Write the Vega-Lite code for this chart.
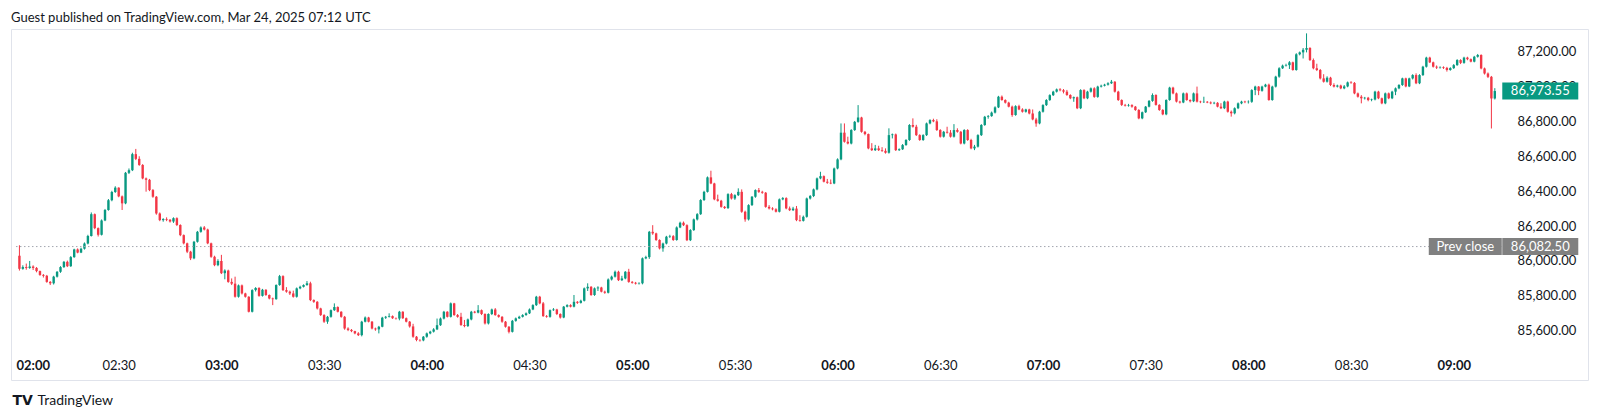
{
  "$schema": "https://vega.github.io/schema/vega-lite/v6.json",
  "width": 1577,
  "height": 351,
  "autosize": {"type": "none"},
  "padding": {"left": 11, "top": 29, "right": 12, "bottom": 39},
  "background": "white",
  "title": {
    "text": "Guest published on TradingView.com, Mar 24, 2025 07:12 UTC",
    "anchor": "start",
    "frame": "group",
    "orient": "top",
    "offset": 8,
    "dy": 14,
    "baseline": "alphabetic",
    "font": "Lato",
    "fontSize": 13,
    "fontWeight": "normal",
    "color": "#131722"
  },
  "config": {"view": {"stroke": "#e0e3eb", "strokeWidth": 1}},
  "data": {
    "format": {"parse": {"t": "utc:'%H:%M'"}},
    "values": [
      {"t":"02:01","o":86030,"h":86090,"l":85945,"c":85955},
      {"t":"02:02","o":85955,"h":85975,"l":85950,"c":85965},
      {"t":"02:03","o":85965,"h":85985,"l":85950,"c":85960},
      {"t":"02:04","o":85960,"h":86000,"l":85955,"c":85968},
      {"t":"02:05","o":85968,"h":85975,"l":85948,"c":85960},
      {"t":"02:06","o":85960,"h":85965,"l":85935,"c":85942},
      {"t":"02:07","o":85942,"h":85945,"l":85915,"c":85920},
      {"t":"02:08","o":85920,"h":85925,"l":85905,"c":85915},
      {"t":"02:09","o":85915,"h":85920,"l":85875,"c":85880},
      {"t":"02:10","o":85880,"h":85885,"l":85862,"c":85872},
      {"t":"02:11","o":85872,"h":85915,"l":85865,"c":85910},
      {"t":"02:12","o":85910,"h":85942,"l":85905,"c":85938},
      {"t":"02:13","o":85938,"h":85970,"l":85932,"c":85965},
      {"t":"02:14","o":85965,"h":86000,"l":85960,"c":85995},
      {"t":"02:15","o":85995,"h":86002,"l":85965,"c":85970},
      {"t":"02:16","o":85970,"h":86028,"l":85966,"c":86022},
      {"t":"02:17","o":86022,"h":86070,"l":86018,"c":86066},
      {"t":"02:18","o":86066,"h":86072,"l":86044,"c":86048},
      {"t":"02:19","o":86048,"h":86076,"l":86045,"c":86070},
      {"t":"02:20","o":86070,"h":86106,"l":86065,"c":86100},
      {"t":"02:21","o":86100,"h":86150,"l":86095,"c":86143},
      {"t":"02:22","o":86143,"h":86278,"l":86140,"c":86268},
      {"t":"02:23","o":86268,"h":86272,"l":86182,"c":86188},
      {"t":"02:24","o":86188,"h":86192,"l":86140,"c":86150},
      {"t":"02:25","o":86150,"h":86238,"l":86146,"c":86232},
      {"t":"02:26","o":86232,"h":86298,"l":86228,"c":86292},
      {"t":"02:27","o":86292,"h":86355,"l":86288,"c":86348},
      {"t":"02:28","o":86348,"h":86402,"l":86342,"c":86395},
      {"t":"02:29","o":86395,"h":86428,"l":86390,"c":86420},
      {"t":"02:30","o":86420,"h":86422,"l":86365,"c":86370},
      {"t":"02:31","o":86370,"h":86375,"l":86292,"c":86330},
      {"t":"02:32","o":86330,"h":86510,"l":86325,"c":86505},
      {"t":"02:33","o":86505,"h":86530,"l":86498,"c":86520},
      {"t":"02:34","o":86520,"h":86620,"l":86515,"c":86612},
      {"t":"02:35","o":86612,"h":86642,"l":86578,"c":86585},
      {"t":"02:36","o":86585,"h":86600,"l":86545,"c":86550},
      {"t":"02:37","o":86550,"h":86555,"l":86468,"c":86473},
      {"t":"02:38","o":86473,"h":86478,"l":86397,"c":86465},
      {"t":"02:39","o":86465,"h":86470,"l":86400,"c":86406},
      {"t":"02:40","o":86406,"h":86412,"l":86362,"c":86368},
      {"t":"02:41","o":86368,"h":86372,"l":86265,"c":86272},
      {"t":"02:42","o":86272,"h":86278,"l":86228,"c":86234},
      {"t":"02:43","o":86234,"h":86245,"l":86225,"c":86240},
      {"t":"02:44","o":86240,"h":86250,"l":86228,"c":86236},
      {"t":"02:45","o":86236,"h":86240,"l":86220,"c":86226},
      {"t":"02:46","o":86226,"h":86250,"l":86218,"c":86245},
      {"t":"02:47","o":86245,"h":86250,"l":86200,"c":86206},
      {"t":"02:48","o":86206,"h":86210,"l":86142,"c":86148},
      {"t":"02:49","o":86148,"h":86152,"l":86095,"c":86101},
      {"t":"02:50","o":86101,"h":86105,"l":86045,"c":86053},
      {"t":"02:51","o":86053,"h":86058,"l":86005,"c":86015},
      {"t":"02:52","o":86015,"h":86115,"l":86010,"c":86110},
      {"t":"02:53","o":86110,"h":86172,"l":86105,"c":86167},
      {"t":"02:54","o":86167,"h":86198,"l":86162,"c":86192},
      {"t":"02:55","o":86192,"h":86200,"l":86175,"c":86180},
      {"t":"02:56","o":86180,"h":86185,"l":86096,"c":86101},
      {"t":"02:57","o":86101,"h":86105,"l":86018,"c":86024},
      {"t":"02:58","o":86024,"h":86030,"l":85970,"c":85976},
      {"t":"02:59","o":85976,"h":86010,"l":85970,"c":86000},
      {"t":"03:00","o":86000,"h":86035,"l":85925,"c":85930},
      {"t":"03:01","o":85930,"h":85952,"l":85895,"c":85945},
      {"t":"03:02","o":85945,"h":85950,"l":85875,"c":85880},
      {"t":"03:03","o":85880,"h":85900,"l":85862,"c":85870},
      {"t":"03:04","o":85870,"h":85910,"l":85790,"c":85795},
      {"t":"03:05","o":85795,"h":85865,"l":85790,"c":85860},
      {"t":"03:06","o":85860,"h":85865,"l":85808,"c":85814},
      {"t":"03:07","o":85814,"h":85818,"l":85790,"c":85795},
      {"t":"03:08","o":85795,"h":85798,"l":85705,"c":85709},
      {"t":"03:09","o":85709,"h":85838,"l":85705,"c":85833},
      {"t":"03:10","o":85833,"h":85850,"l":85825,"c":85845},
      {"t":"03:11","o":85845,"h":85850,"l":85795,"c":85800},
      {"t":"03:12","o":85800,"h":85840,"l":85796,"c":85835},
      {"t":"03:13","o":85835,"h":85838,"l":85800,"c":85805},
      {"t":"03:14","o":85805,"h":85808,"l":85780,"c":85785},
      {"t":"03:15","o":85785,"h":85790,"l":85747,"c":85781},
      {"t":"03:16","o":85781,"h":85866,"l":85778,"c":85862},
      {"t":"03:17","o":85862,"h":85920,"l":85858,"c":85913},
      {"t":"03:18","o":85913,"h":85918,"l":85828,"c":85833},
      {"t":"03:19","o":85833,"h":85850,"l":85818,"c":85824},
      {"t":"03:20","o":85824,"h":85830,"l":85805,"c":85814},
      {"t":"03:21","o":85814,"h":85830,"l":85790,"c":85795},
      {"t":"03:22","o":85795,"h":85848,"l":85790,"c":85843},
      {"t":"03:23","o":85843,"h":85858,"l":85838,"c":85852},
      {"t":"03:24","o":85852,"h":85866,"l":85848,"c":85862},
      {"t":"03:25","o":85862,"h":85885,"l":85858,"c":85872},
      {"t":"03:26","o":85872,"h":85881,"l":85770,"c":85776},
      {"t":"03:27","o":85776,"h":85780,"l":85760,"c":85766},
      {"t":"03:28","o":85766,"h":85770,"l":85722,"c":85728},
      {"t":"03:29","o":85728,"h":85732,"l":85685,"c":85690},
      {"t":"03:30","o":85690,"h":85695,"l":85645,"c":85652},
      {"t":"03:31","o":85652,"h":85685,"l":85640,"c":85680},
      {"t":"03:32","o":85680,"h":85722,"l":85675,"c":85718},
      {"t":"03:33","o":85718,"h":85757,"l":85714,"c":85736},
      {"t":"03:34","o":85736,"h":85740,"l":85705,"c":85709},
      {"t":"03:35","o":85709,"h":85712,"l":85675,"c":85680},
      {"t":"03:36","o":85680,"h":85685,"l":85606,"c":85613},
      {"t":"03:37","o":85613,"h":85620,"l":85598,"c":85605},
      {"t":"03:38","o":85605,"h":85610,"l":85592,"c":85598},
      {"t":"03:39","o":85598,"h":85600,"l":85580,"c":85585},
      {"t":"03:40","o":85585,"h":85592,"l":85570,"c":85575},
      {"t":"03:41","o":85575,"h":85657,"l":85568,"c":85652},
      {"t":"03:42","o":85652,"h":85682,"l":85648,"c":85676},
      {"t":"03:43","o":85676,"h":85680,"l":85648,"c":85652},
      {"t":"03:44","o":85652,"h":85656,"l":85608,"c":85613},
      {"t":"03:45","o":85613,"h":85618,"l":85600,"c":85608},
      {"t":"03:46","o":85608,"h":85628,"l":85585,"c":85623},
      {"t":"03:47","o":85623,"h":85680,"l":85620,"c":85675},
      {"t":"03:48","o":85675,"h":85685,"l":85668,"c":85680},
      {"t":"03:49","o":85680,"h":85700,"l":85676,"c":85684},
      {"t":"03:50","o":85684,"h":85688,"l":85668,"c":85672},
      {"t":"03:51","o":85672,"h":85676,"l":85664,"c":85670},
      {"t":"03:52","o":85670,"h":85714,"l":85660,"c":85709},
      {"t":"03:53","o":85709,"h":85712,"l":85668,"c":85672},
      {"t":"03:54","o":85672,"h":85676,"l":85648,"c":85652},
      {"t":"03:55","o":85652,"h":85656,"l":85618,"c":85625},
      {"t":"03:56","o":85625,"h":85640,"l":85560,"c":85566},
      {"t":"03:57","o":85566,"h":85570,"l":85540,"c":85547},
      {"t":"03:58","o":85547,"h":85552,"l":85538,"c":85545},
      {"t":"03:59","o":85545,"h":85570,"l":85540,"c":85566},
      {"t":"04:00","o":85566,"h":85590,"l":85560,"c":85585},
      {"t":"04:01","o":85585,"h":85600,"l":85580,"c":85595},
      {"t":"04:02","o":85595,"h":85615,"l":85590,"c":85608},
      {"t":"04:03","o":85608,"h":85670,"l":85604,"c":85632},
      {"t":"04:04","o":85632,"h":85676,"l":85628,"c":85670},
      {"t":"04:05","o":85670,"h":85714,"l":85665,"c":85709},
      {"t":"04:06","o":85709,"h":85712,"l":85676,"c":85680},
      {"t":"04:07","o":85680,"h":85762,"l":85676,"c":85757},
      {"t":"04:08","o":85757,"h":85760,"l":85686,"c":85690},
      {"t":"04:09","o":85690,"h":85696,"l":85675,"c":85680},
      {"t":"04:10","o":85680,"h":85703,"l":85628,"c":85633},
      {"t":"04:11","o":85633,"h":85662,"l":85620,"c":85627},
      {"t":"04:12","o":85627,"h":85670,"l":85622,"c":85665},
      {"t":"04:13","o":85665,"h":85714,"l":85660,"c":85709},
      {"t":"04:14","o":85709,"h":85714,"l":85700,"c":85704},
      {"t":"04:15","o":85704,"h":85747,"l":85700,"c":85718},
      {"t":"04:16","o":85718,"h":85722,"l":85690,"c":85696},
      {"t":"04:17","o":85696,"h":85700,"l":85636,"c":85642},
      {"t":"04:18","o":85642,"h":85700,"l":85636,"c":85696},
      {"t":"04:19","o":85696,"h":85727,"l":85690,"c":85722},
      {"t":"04:20","o":85722,"h":85730,"l":85686,"c":85690},
      {"t":"04:21","o":85690,"h":85694,"l":85675,"c":85680},
      {"t":"04:22","o":85680,"h":85684,"l":85646,"c":85652},
      {"t":"04:23","o":85652,"h":85656,"l":85618,"c":85623},
      {"t":"04:24","o":85623,"h":85627,"l":85585,"c":85594},
      {"t":"04:25","o":85594,"h":85662,"l":85590,"c":85657},
      {"t":"04:26","o":85657,"h":85676,"l":85652,"c":85671},
      {"t":"04:27","o":85671,"h":85686,"l":85668,"c":85680},
      {"t":"04:28","o":85680,"h":85695,"l":85676,"c":85690},
      {"t":"04:29","o":85690,"h":85705,"l":85686,"c":85700},
      {"t":"04:30","o":85700,"h":85728,"l":85696,"c":85722},
      {"t":"04:31","o":85722,"h":85752,"l":85718,"c":85747},
      {"t":"04:32","o":85747,"h":85800,"l":85742,"c":85795},
      {"t":"04:33","o":85795,"h":85800,"l":85752,"c":85757},
      {"t":"04:34","o":85757,"h":85765,"l":85680,"c":85684},
      {"t":"04:35","o":85684,"h":85690,"l":85675,"c":85680},
      {"t":"04:36","o":85680,"h":85722,"l":85675,"c":85718},
      {"t":"04:37","o":85718,"h":85730,"l":85714,"c":85722},
      {"t":"04:38","o":85722,"h":85726,"l":85690,"c":85696},
      {"t":"04:39","o":85696,"h":85700,"l":85670,"c":85676},
      {"t":"04:40","o":85676,"h":85742,"l":85672,"c":85738},
      {"t":"04:41","o":85738,"h":85752,"l":85734,"c":85747},
      {"t":"04:42","o":85747,"h":85752,"l":85734,"c":85738},
      {"t":"04:43","o":85738,"h":85805,"l":85734,"c":85766},
      {"t":"04:44","o":85766,"h":85770,"l":85754,"c":85760},
      {"t":"04:45","o":85760,"h":85778,"l":85756,"c":85772},
      {"t":"04:46","o":85772,"h":85848,"l":85768,"c":85843},
      {"t":"04:47","o":85843,"h":85872,"l":85828,"c":85852},
      {"t":"04:48","o":85852,"h":85856,"l":85800,"c":85805},
      {"t":"04:49","o":85805,"h":85848,"l":85800,"c":85843},
      {"t":"04:50","o":85843,"h":85855,"l":85828,"c":85848},
      {"t":"04:51","o":85848,"h":85852,"l":85820,"c":85824},
      {"t":"04:52","o":85824,"h":85830,"l":85812,"c":85818},
      {"t":"04:53","o":85818,"h":85900,"l":85814,"c":85894},
      {"t":"04:54","o":85894,"h":85916,"l":85888,"c":85910},
      {"t":"04:55","o":85910,"h":85945,"l":85905,"c":85938},
      {"t":"04:56","o":85938,"h":85944,"l":85885,"c":85890},
      {"t":"04:57","o":85890,"h":85915,"l":85885,"c":85900},
      {"t":"04:58","o":85900,"h":85942,"l":85895,"c":85938},
      {"t":"04:59","o":85938,"h":85955,"l":85875,"c":85880},
      {"t":"05:00","o":85880,"h":85885,"l":85870,"c":85875},
      {"t":"05:01","o":85875,"h":85880,"l":85865,"c":85870},
      {"t":"05:02","o":85870,"h":85878,"l":85865,"c":85872},
      {"t":"05:03","o":85872,"h":86020,"l":85866,"c":86015},
      {"t":"05:04","o":86015,"h":86030,"l":86010,"c":86022},
      {"t":"05:05","o":86022,"h":86172,"l":86012,"c":86167},
      {"t":"05:06","o":86167,"h":86205,"l":86150,"c":86158},
      {"t":"05:07","o":86158,"h":86162,"l":86115,"c":86120},
      {"t":"05:08","o":86120,"h":86124,"l":86066,"c":86072},
      {"t":"05:09","o":86072,"h":86105,"l":86053,"c":86100},
      {"t":"05:10","o":86100,"h":86144,"l":86095,"c":86139},
      {"t":"05:11","o":86139,"h":86150,"l":86132,"c":86142},
      {"t":"05:12","o":86142,"h":86148,"l":86115,"c":86120},
      {"t":"05:13","o":86120,"h":86198,"l":86116,"c":86192},
      {"t":"05:14","o":86192,"h":86225,"l":86188,"c":86219},
      {"t":"05:15","o":86219,"h":86226,"l":86200,"c":86205},
      {"t":"05:16","o":86205,"h":86210,"l":86114,"c":86119},
      {"t":"05:17","o":86119,"h":86182,"l":86114,"c":86177},
      {"t":"05:18","o":86177,"h":86243,"l":86172,"c":86238},
      {"t":"05:19","o":86238,"h":86274,"l":86232,"c":86268},
      {"t":"05:20","o":86268,"h":86354,"l":86264,"c":86349},
      {"t":"05:21","o":86349,"h":86402,"l":86344,"c":86396},
      {"t":"05:22","o":86396,"h":86484,"l":86392,"c":86479},
      {"t":"05:23","o":86479,"h":86517,"l":86440,"c":86444},
      {"t":"05:24","o":86444,"h":86448,"l":86348,"c":86353},
      {"t":"05:25","o":86353,"h":86380,"l":86340,"c":86345},
      {"t":"05:26","o":86345,"h":86350,"l":86305,"c":86310},
      {"t":"05:27","o":86310,"h":86315,"l":86298,"c":86303},
      {"t":"05:28","o":86303,"h":86388,"l":86298,"c":86383},
      {"t":"05:29","o":86383,"h":86390,"l":86352,"c":86358},
      {"t":"05:30","o":86358,"h":86382,"l":86350,"c":86377},
      {"t":"05:31","o":86377,"h":86416,"l":86372,"c":86396},
      {"t":"05:32","o":86396,"h":86410,"l":86276,"c":86282},
      {"t":"05:33","o":86282,"h":86288,"l":86225,"c":86238},
      {"t":"05:34","o":86238,"h":86325,"l":86232,"c":86320},
      {"t":"05:35","o":86320,"h":86372,"l":86315,"c":86368},
      {"t":"05:36","o":86368,"h":86410,"l":86362,"c":86406},
      {"t":"05:37","o":86406,"h":86418,"l":86390,"c":86396},
      {"t":"05:38","o":86396,"h":86402,"l":86385,"c":86391},
      {"t":"05:39","o":86391,"h":86395,"l":86305,"c":86310},
      {"t":"05:40","o":86310,"h":86320,"l":86295,"c":86301},
      {"t":"05:41","o":86301,"h":86308,"l":86290,"c":86296},
      {"t":"05:42","o":86296,"h":86302,"l":86278,"c":86282},
      {"t":"05:43","o":86282,"h":86358,"l":86278,"c":86353},
      {"t":"05:44","o":86353,"h":86366,"l":86348,"c":86360},
      {"t":"05:45","o":86360,"h":86365,"l":86296,"c":86301},
      {"t":"05:46","o":86301,"h":86312,"l":86286,"c":86291},
      {"t":"05:47","o":86291,"h":86310,"l":86286,"c":86300},
      {"t":"05:48","o":86300,"h":86315,"l":86228,"c":86234},
      {"t":"05:49","o":86234,"h":86262,"l":86225,"c":86230},
      {"t":"05:50","o":86230,"h":86260,"l":86226,"c":86253},
      {"t":"05:51","o":86253,"h":86363,"l":86248,"c":86358},
      {"t":"05:52","o":86358,"h":86378,"l":86352,"c":86372},
      {"t":"05:53","o":86372,"h":86415,"l":86366,"c":86410},
      {"t":"05:54","o":86410,"h":86478,"l":86405,"c":86473},
      {"t":"05:55","o":86473,"h":86511,"l":86468,"c":86486},
      {"t":"05:56","o":86486,"h":86490,"l":86450,"c":86454},
      {"t":"05:57","o":86454,"h":86470,"l":86442,"c":86448},
      {"t":"05:58","o":86448,"h":86467,"l":86440,"c":86444},
      {"t":"05:59","o":86444,"h":86535,"l":86440,"c":86530},
      {"t":"06:00","o":86530,"h":86588,"l":86525,"c":86582},
      {"t":"06:01","o":86582,"h":86788,"l":86577,"c":86735},
      {"t":"06:02","o":86735,"h":86788,"l":86678,"c":86683},
      {"t":"06:03","o":86683,"h":86712,"l":86668,"c":86673},
      {"t":"06:04","o":86673,"h":86755,"l":86668,"c":86750},
      {"t":"06:05","o":86750,"h":86802,"l":86745,"c":86797},
      {"t":"06:06","o":86797,"h":86893,"l":86792,"c":86822},
      {"t":"06:07","o":86822,"h":86826,"l":86735,"c":86740},
      {"t":"06:08","o":86740,"h":86745,"l":86720,"c":86727},
      {"t":"06:09","o":86727,"h":86730,"l":86640,"c":86645},
      {"t":"06:10","o":86645,"h":86675,"l":86630,"c":86635},
      {"t":"06:11","o":86635,"h":86665,"l":86630,"c":86645},
      {"t":"06:12","o":86645,"h":86660,"l":86630,"c":86635},
      {"t":"06:13","o":86635,"h":86652,"l":86625,"c":86631},
      {"t":"06:14","o":86631,"h":86645,"l":86615,"c":86620},
      {"t":"06:15","o":86620,"h":86760,"l":86615,"c":86721},
      {"t":"06:16","o":86721,"h":86730,"l":86702,"c":86725},
      {"t":"06:17","o":86725,"h":86730,"l":86630,"c":86635},
      {"t":"06:18","o":86635,"h":86645,"l":86630,"c":86640},
      {"t":"06:19","o":86640,"h":86670,"l":86636,"c":86664},
      {"t":"06:20","o":86664,"h":86698,"l":86660,"c":86693},
      {"t":"06:21","o":86693,"h":86784,"l":86688,"c":86779},
      {"t":"06:22","o":86779,"h":86817,"l":86764,"c":86769},
      {"t":"06:23","o":86769,"h":86780,"l":86716,"c":86721},
      {"t":"06:24","o":86721,"h":86726,"l":86688,"c":86693},
      {"t":"06:25","o":86693,"h":86726,"l":86688,"c":86721},
      {"t":"06:26","o":86721,"h":86793,"l":86716,"c":86788},
      {"t":"06:27","o":86788,"h":86812,"l":86783,"c":86807},
      {"t":"06:28","o":86807,"h":86815,"l":86795,"c":86800},
      {"t":"06:29","o":86800,"h":86812,"l":86745,"c":86750},
      {"t":"06:30","o":86750,"h":86755,"l":86707,"c":86712},
      {"t":"06:31","o":86712,"h":86745,"l":86707,"c":86740},
      {"t":"06:32","o":86740,"h":86769,"l":86730,"c":86735},
      {"t":"06:33","o":86735,"h":86750,"l":86707,"c":86712},
      {"t":"06:34","o":86712,"h":86784,"l":86707,"c":86750},
      {"t":"06:35","o":86750,"h":86760,"l":86735,"c":86740},
      {"t":"06:36","o":86740,"h":86745,"l":86668,"c":86673},
      {"t":"06:37","o":86673,"h":86755,"l":86668,"c":86750},
      {"t":"06:38","o":86750,"h":86755,"l":86688,"c":86693},
      {"t":"06:39","o":86693,"h":86700,"l":86640,"c":86645},
      {"t":"06:40","o":86645,"h":86665,"l":86635,"c":86655},
      {"t":"06:41","o":86655,"h":86726,"l":86650,"c":86721},
      {"t":"06:42","o":86721,"h":86784,"l":86716,"c":86779},
      {"t":"06:43","o":86779,"h":86831,"l":86774,"c":86826},
      {"t":"06:44","o":86826,"h":86836,"l":86815,"c":86830},
      {"t":"06:45","o":86830,"h":86856,"l":86826,"c":86850},
      {"t":"06:46","o":86850,"h":86886,"l":86845,"c":86880},
      {"t":"06:47","o":86880,"h":86946,"l":86876,"c":86941},
      {"t":"06:48","o":86941,"h":86948,"l":86918,"c":86922},
      {"t":"06:49","o":86922,"h":86926,"l":86902,"c":86907},
      {"t":"06:50","o":86907,"h":86912,"l":86880,"c":86884},
      {"t":"06:51","o":86884,"h":86890,"l":86826,"c":86836},
      {"t":"06:52","o":86836,"h":86892,"l":86832,"c":86887},
      {"t":"06:53","o":86887,"h":86895,"l":86864,"c":86868},
      {"t":"06:54","o":86868,"h":86875,"l":86850,"c":86855},
      {"t":"06:55","o":86855,"h":86872,"l":86850,"c":86868},
      {"t":"06:56","o":86868,"h":86872,"l":86840,"c":86845},
      {"t":"06:57","o":86845,"h":86868,"l":86806,"c":86811},
      {"t":"06:58","o":86811,"h":86820,"l":86769,"c":86788},
      {"t":"06:59","o":86788,"h":86860,"l":86783,"c":86855},
      {"t":"07:00","o":86855,"h":86898,"l":86850,"c":86893},
      {"t":"07:01","o":86893,"h":86927,"l":86888,"c":86922},
      {"t":"07:02","o":86922,"h":86955,"l":86917,"c":86950},
      {"t":"07:03","o":86950,"h":86975,"l":86945,"c":86970},
      {"t":"07:04","o":86970,"h":86988,"l":86965,"c":86983},
      {"t":"07:05","o":86983,"h":86990,"l":86972,"c":86978},
      {"t":"07:06","o":86978,"h":86985,"l":86960,"c":86970},
      {"t":"07:07","o":86970,"h":86980,"l":86946,"c":86951},
      {"t":"07:08","o":86951,"h":86955,"l":86927,"c":86932},
      {"t":"07:09","o":86932,"h":86942,"l":86912,"c":86938},
      {"t":"07:10","o":86938,"h":86942,"l":86870,"c":86875},
      {"t":"07:11","o":86875,"h":86984,"l":86870,"c":86979},
      {"t":"07:12","o":86979,"h":86984,"l":86927,"c":86932},
      {"t":"07:13","o":86932,"h":86975,"l":86927,"c":86970},
      {"t":"07:14","o":86970,"h":86994,"l":86965,"c":86989},
      {"t":"07:15","o":86989,"h":86995,"l":86935,"c":86940},
      {"t":"07:16","o":86940,"h":87004,"l":86935,"c":86999},
      {"t":"07:17","o":86999,"h":87010,"l":86994,"c":87004},
      {"t":"07:18","o":87004,"h":87015,"l":87000,"c":87010},
      {"t":"07:19","o":87010,"h":87024,"l":87005,"c":87018},
      {"t":"07:20","o":87018,"h":87037,"l":87014,"c":87027},
      {"t":"07:21","o":87027,"h":87030,"l":86965,"c":86970},
      {"t":"07:22","o":86970,"h":86975,"l":86917,"c":86922},
      {"t":"07:23","o":86922,"h":86926,"l":86888,"c":86894},
      {"t":"07:24","o":86894,"h":86900,"l":86885,"c":86890},
      {"t":"07:25","o":86890,"h":86900,"l":86884,"c":86893},
      {"t":"07:26","o":86893,"h":86898,"l":86878,"c":86884},
      {"t":"07:27","o":86884,"h":86888,"l":86860,"c":86865},
      {"t":"07:28","o":86865,"h":86870,"l":86812,"c":86817},
      {"t":"07:29","o":86817,"h":86856,"l":86812,"c":86852},
      {"t":"07:30","o":86852,"h":86888,"l":86848,"c":86884},
      {"t":"07:31","o":86884,"h":86922,"l":86880,"c":86917},
      {"t":"07:32","o":86917,"h":86960,"l":86912,"c":86951},
      {"t":"07:33","o":86951,"h":86955,"l":86890,"c":86894},
      {"t":"07:34","o":86894,"h":86898,"l":86860,"c":86865},
      {"t":"07:35","o":86865,"h":86870,"l":86835,"c":86840},
      {"t":"07:36","o":86840,"h":86926,"l":86835,"c":86922},
      {"t":"07:37","o":86922,"h":86998,"l":86918,"c":86993},
      {"t":"07:38","o":86993,"h":86998,"l":86955,"c":86960},
      {"t":"07:39","o":86960,"h":86965,"l":86908,"c":86913},
      {"t":"07:40","o":86913,"h":86918,"l":86902,"c":86908},
      {"t":"07:41","o":86908,"h":86965,"l":86904,"c":86960},
      {"t":"07:42","o":86960,"h":86965,"l":86918,"c":86922},
      {"t":"07:43","o":86922,"h":86926,"l":86908,"c":86915},
      {"t":"07:44","o":86915,"h":86965,"l":86910,"c":86960},
      {"t":"07:45","o":86960,"h":86999,"l":86908,"c":86913},
      {"t":"07:46","o":86913,"h":86918,"l":86904,"c":86910},
      {"t":"07:47","o":86910,"h":86941,"l":86905,"c":86912},
      {"t":"07:48","o":86912,"h":86916,"l":86904,"c":86908},
      {"t":"07:49","o":86908,"h":86914,"l":86898,"c":86903},
      {"t":"07:50","o":86903,"h":86912,"l":86898,"c":86906},
      {"t":"07:51","o":86906,"h":86910,"l":86880,"c":86884},
      {"t":"07:52","o":86884,"h":86904,"l":86870,"c":86875},
      {"t":"07:53","o":86875,"h":86918,"l":86870,"c":86913},
      {"t":"07:54","o":86913,"h":86918,"l":86850,"c":86855},
      {"t":"07:55","o":86855,"h":86862,"l":86827,"c":86846},
      {"t":"07:56","o":86846,"h":86880,"l":86840,"c":86875},
      {"t":"07:57","o":86875,"h":86908,"l":86870,"c":86903},
      {"t":"07:58","o":86903,"h":86918,"l":86898,"c":86913},
      {"t":"07:59","o":86913,"h":86918,"l":86904,"c":86910},
      {"t":"08:00","o":86910,"h":86920,"l":86902,"c":86912},
      {"t":"08:01","o":86912,"h":86984,"l":86906,"c":86979},
      {"t":"08:02","o":86979,"h":87004,"l":86950,"c":86999},
      {"t":"08:03","o":86999,"h":87002,"l":86950,"c":86975},
      {"t":"08:04","o":86975,"h":87004,"l":86970,"c":86999},
      {"t":"08:05","o":86999,"h":87015,"l":86995,"c":87010},
      {"t":"08:06","o":87010,"h":87016,"l":86918,"c":86922},
      {"t":"08:07","o":86922,"h":87004,"l":86918,"c":86999},
      {"t":"08:08","o":86999,"h":87061,"l":86994,"c":87056},
      {"t":"08:09","o":87056,"h":87110,"l":87050,"c":87104},
      {"t":"08:10","o":87104,"h":87125,"l":87100,"c":87119},
      {"t":"08:11","o":87119,"h":87130,"l":87114,"c":87122},
      {"t":"08:12","o":87122,"h":87145,"l":87100,"c":87138},
      {"t":"08:13","o":87138,"h":87142,"l":87090,"c":87094},
      {"t":"08:14","o":87094,"h":87190,"l":87090,"c":87184},
      {"t":"08:15","o":87184,"h":87200,"l":87178,"c":87195},
      {"t":"08:16","o":87195,"h":87220,"l":87160,"c":87210},
      {"t":"08:17","o":87210,"h":87304,"l":87195,"c":87220},
      {"t":"08:18","o":87220,"h":87225,"l":87146,"c":87151},
      {"t":"08:19","o":87151,"h":87160,"l":87098,"c":87104},
      {"t":"08:20","o":87104,"h":87130,"l":87088,"c":87094},
      {"t":"08:21","o":87094,"h":87100,"l":87040,"c":87046},
      {"t":"08:22","o":87046,"h":87070,"l":87022,"c":87027},
      {"t":"08:23","o":87027,"h":87058,"l":87022,"c":87050},
      {"t":"08:24","o":87050,"h":87055,"l":87002,"c":87008},
      {"t":"08:25","o":87008,"h":87018,"l":86994,"c":86999},
      {"t":"08:26","o":86999,"h":87010,"l":86994,"c":87005},
      {"t":"08:27","o":87005,"h":87010,"l":86984,"c":86989},
      {"t":"08:28","o":86989,"h":87008,"l":86984,"c":87000},
      {"t":"08:29","o":87000,"h":87028,"l":86995,"c":87023},
      {"t":"08:30","o":87023,"h":87030,"l":87015,"c":87020},
      {"t":"08:31","o":87020,"h":87025,"l":86955,"c":86960},
      {"t":"08:32","o":86960,"h":86965,"l":86936,"c":86941},
      {"t":"08:33","o":86941,"h":86950,"l":86903,"c":86932},
      {"t":"08:34","o":86932,"h":86940,"l":86925,"c":86935},
      {"t":"08:35","o":86935,"h":86940,"l":86915,"c":86922},
      {"t":"08:36","o":86922,"h":86930,"l":86915,"c":86925},
      {"t":"08:37","o":86925,"h":86975,"l":86920,"c":86970},
      {"t":"08:38","o":86970,"h":86975,"l":86927,"c":86932},
      {"t":"08:39","o":86932,"h":86936,"l":86898,"c":86903},
      {"t":"08:40","o":86903,"h":86965,"l":86898,"c":86960},
      {"t":"08:41","o":86960,"h":86965,"l":86927,"c":86932},
      {"t":"08:42","o":86932,"h":86975,"l":86927,"c":86970},
      {"t":"08:43","o":86970,"h":86994,"l":86950,"c":86989},
      {"t":"08:44","o":86989,"h":87013,"l":86984,"c":87008},
      {"t":"08:45","o":87008,"h":87050,"l":87003,"c":87046},
      {"t":"08:46","o":87046,"h":87050,"l":86995,"c":87000},
      {"t":"08:47","o":87000,"h":87050,"l":86996,"c":87046},
      {"t":"08:48","o":87046,"h":87070,"l":87040,"c":87065},
      {"t":"08:49","o":87065,"h":87075,"l":87013,"c":87018},
      {"t":"08:50","o":87018,"h":87070,"l":87013,"c":87065},
      {"t":"08:51","o":87065,"h":87118,"l":87060,"c":87113},
      {"t":"08:52","o":87113,"h":87170,"l":87108,"c":87165},
      {"t":"08:53","o":87165,"h":87170,"l":87134,"c":87138},
      {"t":"08:54","o":87138,"h":87142,"l":87108,"c":87113},
      {"t":"08:55","o":87113,"h":87120,"l":87100,"c":87108},
      {"t":"08:56","o":87108,"h":87115,"l":87102,"c":87110},
      {"t":"08:57","o":87110,"h":87115,"l":87100,"c":87106},
      {"t":"08:58","o":87106,"h":87112,"l":87085,"c":87094},
      {"t":"08:59","o":87094,"h":87110,"l":87090,"c":87105},
      {"t":"09:00","o":87105,"h":87128,"l":87100,"c":87122},
      {"t":"09:01","o":87122,"h":87156,"l":87118,"c":87151},
      {"t":"09:02","o":87151,"h":87156,"l":87128,"c":87135},
      {"t":"09:03","o":87135,"h":87170,"l":87130,"c":87165},
      {"t":"09:04","o":87165,"h":87170,"l":87150,"c":87156},
      {"t":"09:05","o":87156,"h":87160,"l":87138,"c":87142},
      {"t":"09:06","o":87142,"h":87175,"l":87138,"c":87170},
      {"t":"09:07","o":87170,"h":87186,"l":87165,"c":87180},
      {"t":"09:08","o":87180,"h":87184,"l":87098,"c":87103},
      {"t":"09:09","o":87103,"h":87108,"l":87068,"c":87074},
      {"t":"09:10","o":87074,"h":87080,"l":87048,"c":87055},
      {"t":"09:11","o":87055,"h":87060,"l":86759,"c":86931},
      {"t":"09:12","o":86931,"h":86990,"l":86925,"c":86973.55}
    ]
  },
  "layer": [
    {
      "mark": {"type": "rule", "strokeWidth": 1},
      "encoding": {
        "x": {
          "field": "t",
          "type": "temporal",
          "scale": {"type": "utc", "domain": [-2208981600000, -2208954134400], "nice": false},
          "axis": {
            "orient": "bottom",
            "offset": -15,
            "values": [-2208981600000, -2208979800000, -2208978000000, -2208976200000, -2208974400000, -2208972600000, -2208970800000, -2208969000000, -2208967200000, -2208965400000, -2208963600000, -2208961800000, -2208960000000, -2208958200000, -2208956400000],
            "format": "%H:%M",
            "ticks": false,
            "domain": false,
            "grid": false,
            "labelFont": "Lato",
            "labelFontSize": 13,
            "labelColor": "#131722",
            "labelPadding": 0,
            "labelBaseline": "middle",
            "labelFlush": false,
            "labelBound": false,
            "labelOverlap": false,
            "labelAlign": {"condition": {"test": "datum.value <= -2208981600000", "value": "left"}, "value": "center"},
            "labelFontWeight": {"condition": {"test": "utcminutes(datum.value) === 0", "value": "bold"}, "value": "normal"},
            "title": "TradingView",
            "titleFont": "Lato",
            "titleFontSize": 14,
            "titleFontWeight": "normal",
            "titleColor": "#131722",
            "titleAnchor": "start",
            "titleAlign": "left",
            "titleBaseline": "middle",
            "titleX": 26,
            "titleY": 35
          }
        },
        "y": {
          "field": "l",
          "type": "quantitative",
          "scale": {"domain": [85318, 87329], "nice": false, "zero": false},
          "axis": {
            "orient": "right",
            "offset": -71,
            "values": [85600, 85800, 86000, 86200, 86400, 86600, 86800, 87000, 87200],
            "format": ",.2f",
            "ticks": false,
            "domain": false,
            "grid": false,
            "labelFont": "Lato",
            "labelFontSize": 13,
            "labelColor": "#131722",
            "labelPadding": 0,
            "labelAlign": "left",
            "labelOverlap": false,
            "title": "TV",
            "titleAngle": 0,
            "titleFont": "DejaVu Sans",
            "titleFontSize": 14,
            "titleFontWeight": "bold",
            "titleColor": "#131722",
            "titleAlign": "left",
            "titleBaseline": "middle",
            "titleX": -1505,
            "titleY": 371
          }
        },
        "y2": {"field": "h"},
        "color": {"condition": {"test": "datum.c >= datum.o", "value": "#089981"}, "value": "#f23645"}
      }
    },
    {
      "mark": {"type": "bar", "width": 2.4},
      "encoding": {
        "x": {"field": "t", "type": "temporal", "scale": {"type": "utc", "domain": [-2208981600000, -2208954134400], "nice": false}},
        "y": {"field": "o", "type": "quantitative", "scale": {"domain": [85318, 87329], "nice": false, "zero": false}},
        "y2": {"field": "c"},
        "color": {"condition": {"test": "datum.c >= datum.o", "value": "#089981"}, "value": "#f23645"}
      }
    },
    {
      "data": {"values": [{"name": "prev", "price": 86082.5}]},
      "mark": {"type": "rule", "strokeDash": [1.5, 2.5], "color": "#a3a6af", "strokeWidth": 1},
      "encoding": {
        "x": {"datum": -2208981600000, "type": "temporal", "scale": {"type": "utc", "domain": [-2208981600000, -2208954134400], "nice": false}},
        "x2": {"datum": -2208954624000},
        "y": {"field": "price", "type": "quantitative", "scale": {"domain": [85318, 87329], "nice": false, "zero": false}}
      }
    },
    {
      "data": {"values": [{"name": "last", "price": 86973.55}, {"name": "prev", "price": 86082.5}]},
      "layer": [
        {
          "mark": {"type": "tick", "orient": "horizontal", "size": 76, "thickness": 17, "opacity": 1},
          "encoding": {
            "x": {"datum": -2208954883200, "type": "temporal", "scale": {"type": "utc", "domain": [-2208981600000, -2208954134400], "nice": false}},
            "y": {"field": "price", "type": "quantitative", "scale": {"domain": [85318, 87329], "nice": false, "zero": false}},
            "color": {"condition": {"test": "datum.name === 'last'", "value": "#089981"}, "value": "#808080"}
          }
        },
        {
          "mark": {"type": "text", "font": "Lato", "fontSize": 13, "color": "white", "align": "center", "baseline": "middle"},
          "encoding": {
            "x": {"datum": -2208954883200, "type": "temporal", "scale": {"type": "utc", "domain": [-2208981600000, -2208954134400], "nice": false}},
            "y": {"field": "price", "type": "quantitative", "scale": {"domain": [85318, 87329], "nice": false, "zero": false}},
            "text": {"field": "price", "type": "quantitative", "format": ",.2f"}
          }
        },
        {
          "transform": [{"filter": "datum.name === 'prev'"}],
          "mark": {"type": "tick", "orient": "horizontal", "size": 73, "thickness": 17, "opacity": 1, "color": "#808080"},
          "encoding": {
            "x": {"datum": -2208956197800, "type": "temporal", "scale": {"type": "utc", "domain": [-2208981600000, -2208954134400], "nice": false}},
            "y": {"field": "price", "type": "quantitative", "scale": {"domain": [85318, 87329], "nice": false, "zero": false}}
          }
        },
        {
          "transform": [{"filter": "datum.name === 'prev'"}],
          "mark": {"type": "text", "font": "Lato", "fontSize": 13, "color": "white", "align": "center", "baseline": "middle"},
          "encoding": {
            "x": {"datum": -2208956197800, "type": "temporal", "scale": {"type": "utc", "domain": [-2208981600000, -2208954134400], "nice": false}},
            "y": {"field": "price", "type": "quantitative", "scale": {"domain": [85318, 87329], "nice": false, "zero": false}},
            "text": {"value": "Prev close"}
          }
        }
      ]
    }
  ]
}
